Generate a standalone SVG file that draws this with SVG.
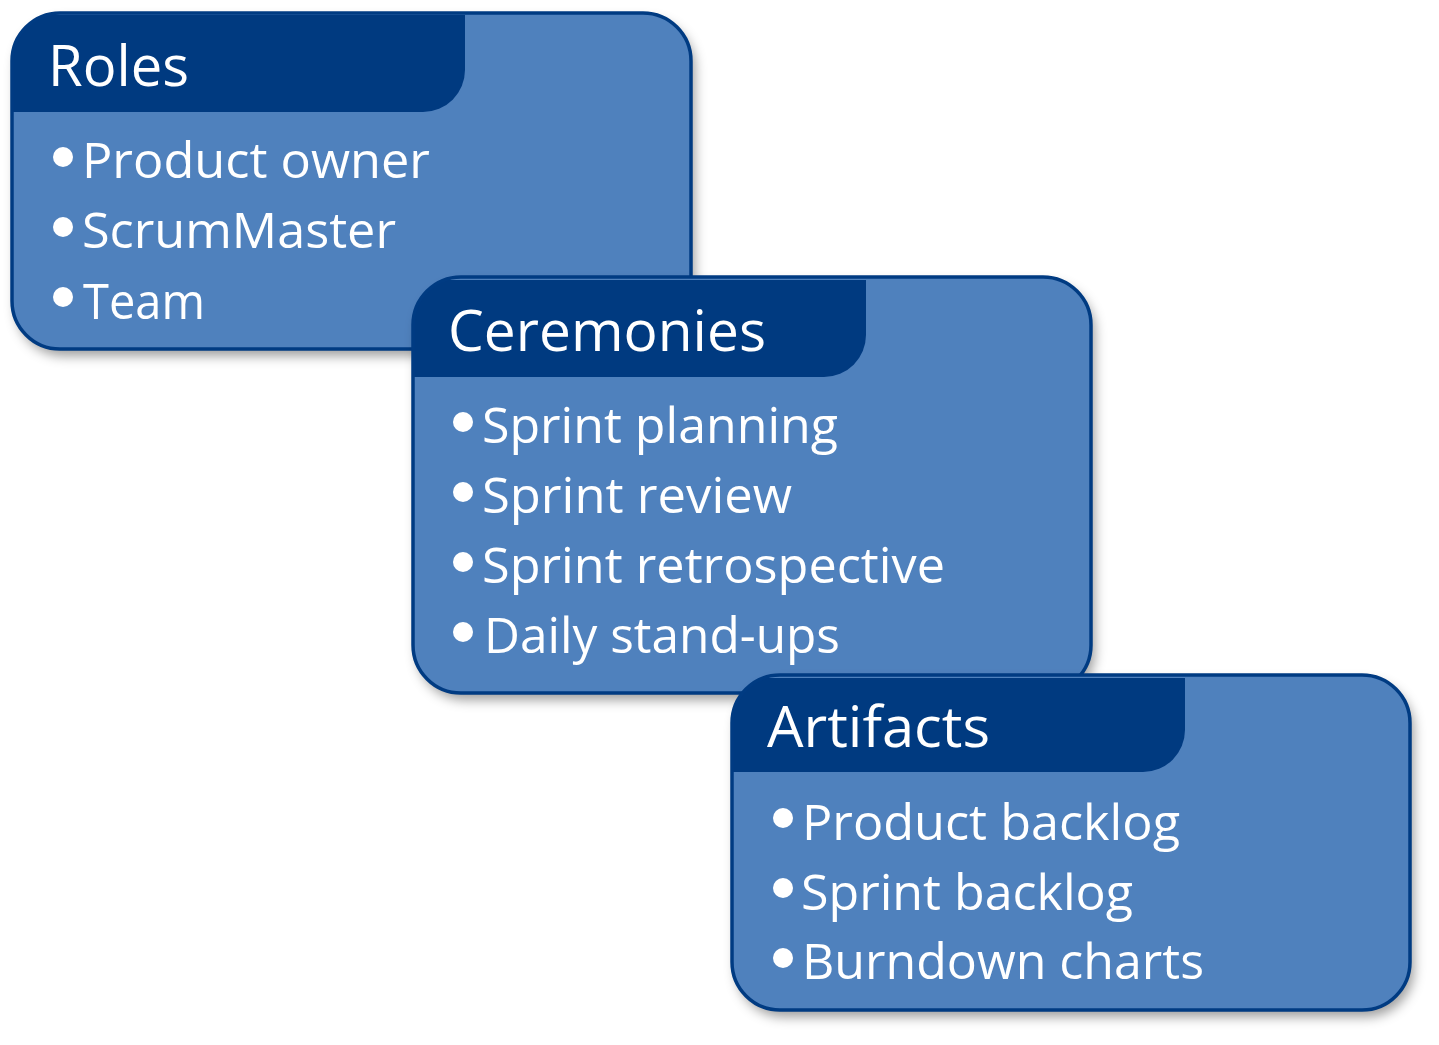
<svg xmlns="http://www.w3.org/2000/svg" width="1439" height="1045" viewBox="0 0 1439 1045">
  <style>
    .body { fill: #4F81BD; }
    .outline { fill: none; stroke: #003B82; stroke-width: 3.5; }
    .tab { fill: #003A80; }
    .title { font-family: "Open Sans", "Liberation Sans", sans-serif; font-size: 57px; fill: #FFFFFF; }
    .item { font-family: "Open Sans", "Liberation Sans", sans-serif; font-size: 50px; fill: #FFFFFF; }
    .bullet { fill: #FFFFFF; }
  </style>
  <defs>
    <filter id="shadow" x="-10%" y="-10%" width="125%" height="130%">
      <feDropShadow dx="4" dy="7" stdDeviation="6" flood-color="#000000" flood-opacity="0.38"/>
    </filter>
    <clipPath id="clipRoles"><rect x="12" y="13" width="679" height="336" rx="48" ry="48"/></clipPath>
    <clipPath id="clipCer"><rect x="413" y="277" width="678" height="416" rx="48" ry="48"/></clipPath>
    <clipPath id="clipArt"><rect x="732" y="675" width="678" height="335" rx="48" ry="48"/></clipPath>
  </defs>

  <g id="connectors"></g>

  <g id="roles">
    <rect class="body" x="12" y="13" width="679" height="336" rx="48" ry="48" filter="url(#shadow)"/>
    <path class="tab" clip-path="url(#clipRoles)" d="M 10 15 H 465 V 70 A 42 42 0 0 1 423 112 H 10 Z"/>
    <rect class="outline" x="12" y="13" width="679" height="336" rx="48" ry="48"/>
    <text class="title" x="48" y="86" textLength="141" lengthAdjust="spacingAndGlyphs">Roles</text>
    <circle class="bullet" cx="63" cy="157" r="10"/>
    <text class="item" x="82" y="178" textLength="348" lengthAdjust="spacingAndGlyphs">Product owner</text>
    <circle class="bullet" cx="63" cy="227" r="10"/>
    <text class="item" x="82" y="248" textLength="314" lengthAdjust="spacingAndGlyphs">ScrumMaster</text>
    <circle class="bullet" cx="63" cy="297" r="10"/>
    <text class="item" x="83" y="319" textLength="122" lengthAdjust="spacingAndGlyphs">Team</text>
  </g>

  <g id="ceremonies">
    <rect class="body" x="413" y="277" width="678" height="416" rx="48" ry="48" filter="url(#shadow)"/>
    <path class="tab" clip-path="url(#clipCer)" d="M 411 280 H 866 V 335 A 42 42 0 0 1 824 377 H 411 Z"/>
    <rect class="outline" x="413" y="277" width="678" height="416" rx="48" ry="48"/>
    <text class="title" x="448" y="351" textLength="318" lengthAdjust="spacingAndGlyphs">Ceremonies</text>
    <circle class="bullet" cx="463" cy="422" r="10"/>
    <text class="item" x="482" y="443" textLength="356" lengthAdjust="spacingAndGlyphs">Sprint planning</text>
    <circle class="bullet" cx="463" cy="492" r="10"/>
    <text class="item" x="482" y="513" textLength="310" lengthAdjust="spacingAndGlyphs">Sprint review</text>
    <circle class="bullet" cx="463" cy="562" r="10"/>
    <text class="item" x="482" y="583" textLength="463" lengthAdjust="spacingAndGlyphs">Sprint retrospective</text>
    <circle class="bullet" cx="463" cy="632" r="10"/>
    <text class="item" x="484" y="653" textLength="356" lengthAdjust="spacingAndGlyphs">Daily stand-ups</text>
  </g>

  <g id="artifacts">
    <rect class="body" x="732" y="675" width="678" height="335" rx="48" ry="48" filter="url(#shadow)"/>
    <path class="tab" clip-path="url(#clipArt)" d="M 730 678 H 1185 V 730 A 42 42 0 0 1 1143 772 H 730 Z"/>
    <rect class="outline" x="732" y="675" width="678" height="335" rx="48" ry="48"/>
    <text class="title" x="767" y="747" textLength="223" lengthAdjust="spacingAndGlyphs">Artifacts</text>
    <circle class="bullet" cx="783" cy="818" r="10"/>
    <text class="item" x="802" y="840" textLength="378" lengthAdjust="spacingAndGlyphs">Product backlog</text>
    <circle class="bullet" cx="783" cy="888" r="10"/>
    <text class="item" x="801" y="910" textLength="332" lengthAdjust="spacingAndGlyphs">Sprint backlog</text>
    <circle class="bullet" cx="783" cy="958" r="10"/>
    <text class="item" x="802" y="979" textLength="402" lengthAdjust="spacingAndGlyphs">Burndown charts</text>
  </g>
</svg>
